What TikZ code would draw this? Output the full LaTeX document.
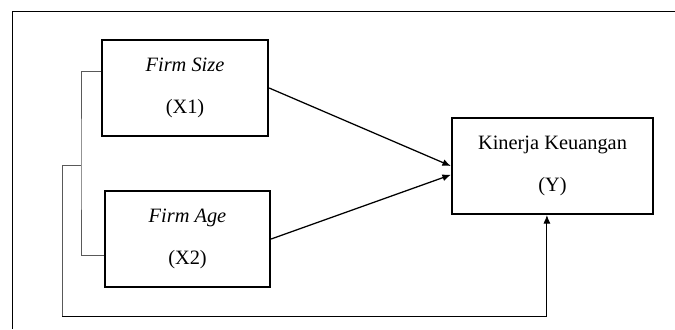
\documentclass[tikz,border=0pt]{standalone}
\usepackage{fontspec}
\setmainfont{Liberation Serif}
\usetikzlibrary{arrows.meta}
\tikzset{
  varnode/.style = {shape=rectangle, draw, line width=1.6pt,
                    align=center, minimum height=2.4cm,
                    font=\fontsize{14.5}{30}\selectfont},
  depnode/.style = {varnode, minimum width=5.025cm},
  path/.style    = {line width=0.9pt, -{Latex[length=6pt,width=5pt]}},
  link/.style    = {draw=gray!70!black, line width=0.6pt}
}
\begin{document}
\begin{tikzpicture}
 [x=0.025cm, y=-0.025cm]
  \useasboundingbox (0,0) rectangle (675,329);
  \draw[line width=0.7pt] (12,329) -- (12,11) -- (675,11);

  \node[varnode, minimum width=4.15cm]  (X1) at (185,88)    {\textit{Firm Size}\\(X1)};
  \node[varnode, minimum width=4.125cm] (X2) at (187.5,239) {\textit{Firm Age}\\(X2)};
  \node[depnode] (Y) at (552.5,166) {Kinerja Keuangan\\(Y)};

  \coordinate (split)  at (81,165);
  \coordinate (corner) at (62,316);

  \draw[path] (X1.east) -- (Y.west);
  \draw[path] (X2.east) -- ([yshift=-0.22cm]Y.west);
  \draw[link] ([yshift=0.425cm]X1.west) -| (split) |- ([yshift=-0.4cm]X2.west);
  \draw[link] (split) -| (corner);
  \draw[link, -{Latex[length=6pt,width=5pt]}, draw=black] (corner) -| ([xshift=-0.14cm]Y.south);
\end{tikzpicture}
\end{document}
